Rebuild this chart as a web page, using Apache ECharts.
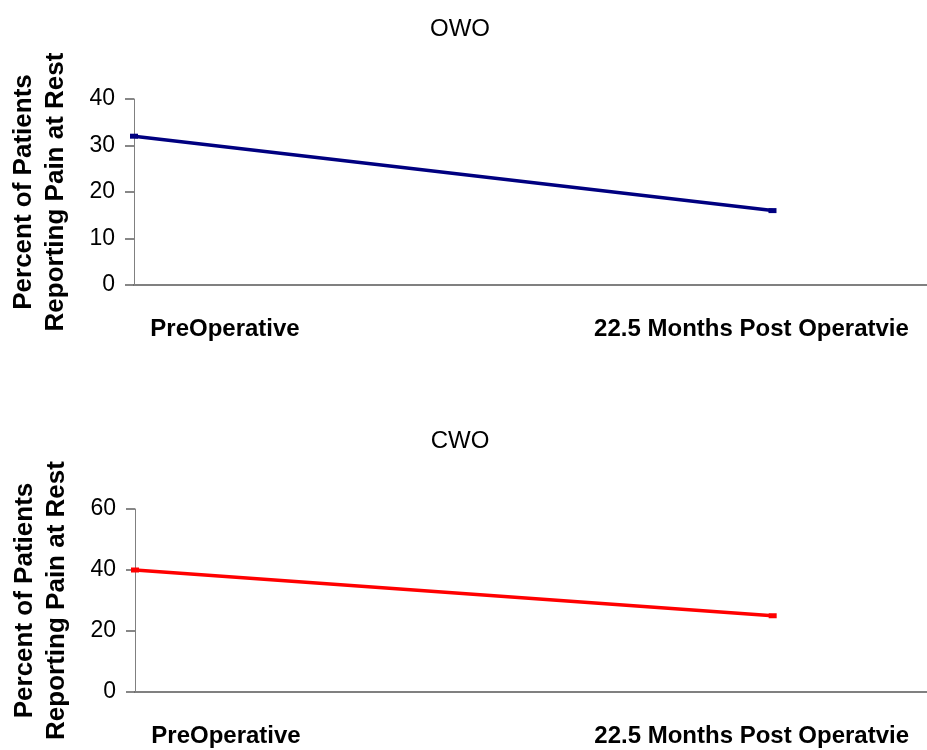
<!DOCTYPE html>
<html>
<head>
<meta charset="utf-8">
<title>Pain at Rest: OWO vs CWO</title>
<script src="https://cdn.jsdelivr.net/npm/echarts@6/dist/echarts.min.js"></script>
<style>
  html, body { margin: 0; padding: 0; background: #ffffff; }
  #chart { width: 927px; height: 750px; }
</style>
</head>
<body>
<div id="chart"></div>
<script>
// Time points (x categories)
const categories = ['PreOperative', '22.5 Months Post Operatvie'];

// Percent of patients reporting pain at rest
const owoValues = [32, 16];
const cwoValues = [40, 25];

// Y axis ranges
const owoAxis = { min: 0, max: 40, interval: 10 };
const cwoAxis = { min: 0, max: 60, interval: 20 };

const FONT = '"Liberation Sans", Arial, sans-serif';
const AXIS_GRAY = '#808080';
const yName = 'Percent of Patients\nReporting Pain at Rest';

// The x axis runs past the last time point, so positions are indices on a value scale
const xSpan = 1.242;

function pointsFor(values) {
  return values.map((v, i) => [i, v]);
}

function xAxisFor(gridIndex) {
  return {
    type: 'value',
    gridIndex: gridIndex,
    min: 0,
    max: xSpan,
    axisLine: { show: true, onZero: false, lineStyle: { color: AXIS_GRAY, width: 2 } },
    axisTick: { show: false },
    splitLine: { show: false },
    axisLabel: {
      customValues: categories.map((c, i) => i),
      margin: 32,
      formatter: function (value) {
        const i = Math.round(value);
        return i === 0 ? '{first|' + categories[0] + '}' : '{last|' + categories[1] + '}';
      },
      rich: {
        first: { fontFamily: FONT, fontSize: 24, fontWeight: 'bold', color: '#000', padding: [0, 0, 0, 182] },
        last: { fontFamily: FONT, fontSize: 24, fontWeight: 'bold', color: '#000', padding: [0, 42, 0, 0] }
      }
    }
  };
}

function yAxisFor(gridIndex, range) {
  return {
    type: 'value',
    gridIndex: gridIndex,
    position: 'left',
    min: range.min,
    max: range.max,
    interval: range.interval,
    name: yName,
    nameLocation: 'middle',
    nameGap: 62,
    nameTextStyle: { fontFamily: FONT, fontSize: 26, fontWeight: 'bold', color: '#000', lineHeight: 32 },
    axisLine: { show: true, onZero: false, lineStyle: { color: AXIS_GRAY, width: 1 } },
    axisTick: { show: true, inside: false, length: 9, lineStyle: { color: '#606060', width: 1.5 } },
    splitLine: { show: false },
    axisLabel: { fontFamily: FONT, fontSize: 23, color: '#000', margin: 19 }
  };
}

const chart = echarts.init(document.getElementById('chart'), null, { renderer: 'canvas' });

chart.setOption({
  backgroundColor: '#ffffff',
  animation: false,
  title: [
    { text: 'OWO', left: 455, top: 12, textAlign: 'center',
      textStyle: { fontFamily: FONT, fontSize: 24, fontWeight: 'normal', color: '#000' } },
    { text: 'CWO', left: 455, top: 424, textAlign: 'center',
      textStyle: { fontFamily: FONT, fontSize: 24, fontWeight: 'normal', color: '#000' } }
  ],
  grid: [
    { left: 132, right: 0, top: 99, height: 186 },
    { left: 135, right: 0, top: 509, height: 183 }
  ],
  xAxis: [xAxisFor(0), xAxisFor(1)],
  yAxis: [yAxisFor(0, owoAxis), yAxisFor(1, cwoAxis)],
  series: [
    {
      name: 'OWO',
      type: 'line',
      xAxisIndex: 0,
      yAxisIndex: 0,
      data: pointsFor(owoValues),
      symbol: 'rect',
      symbolSize: [8, 5],
      lineStyle: { color: '#000080', width: 3.5 },
      itemStyle: { color: '#000080' }
    },
    {
      name: 'CWO',
      type: 'line',
      xAxisIndex: 1,
      yAxisIndex: 1,
      data: pointsFor(cwoValues),
      symbol: 'rect',
      symbolSize: [8, 5],
      lineStyle: { color: '#ff0000', width: 3.5 },
      itemStyle: { color: '#ff0000' }
    }
  ]
});
</script>
</body>
</html>
